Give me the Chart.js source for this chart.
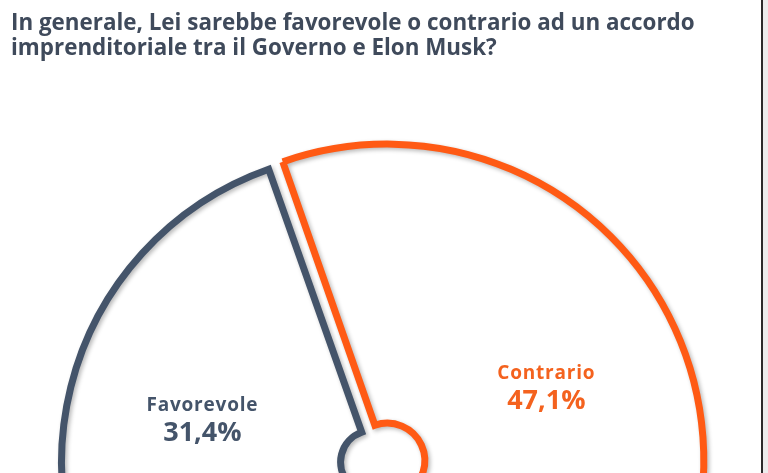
<!DOCTYPE html>
<html><head><meta charset="utf-8">
<script src="https://cdn.jsdelivr.net/npm/chart.js@4.4.0/dist/chart.umd.min.js"></script>
<style>
html,body{margin:0;padding:0;width:768px;height:473px;overflow:hidden;background:#fff;}
#title{position:absolute;left:11px;top:9px;font-family:'Open Sans';font-weight:700;line-height:25px;color:#3F4A5B;white-space:nowrap;z-index:2}
#wrap{position:absolute;left:0;top:0;width:760px;height:928px;}
#edge{position:absolute;left:761px;top:0;width:2px;height:473px;background:#2b2b2b;z-index:3}
#edge2{position:absolute;left:763px;top:0;width:5px;height:473px;background:#ececec;z-index:3}
</style></head>
<body>
<div id="wrap"><canvas id="c"></canvas></div>
<div id="title"><div id="t1"></div><div id="t2"></div></div>
<div id="edge"></div><div id="edge2"></div>
<script>
const titleLines = ["In generale, Lei sarebbe favorevole o contrario ad un accordo", "imprenditoriale tra il Governo e Elon Musk?"];
const categories = ["Favorevole", "Contrario", "Non sa / Non risponde"];
const values = [31.4, 47.1, 21.5];
const valueLabels = ["31,4%", "47,1%", "21,5%"];
const sliceColors = ["#44546A", "#FF5A14", "#A5A5A5"];
const textColors = ["#44546A", "#F4621E", "#7F7F7F"];

// title as real text, fitted to the reference line width
document.getElementById('t1').textContent = titleLines[0];
document.getElementById('t2').textContent = titleLines[1];
(function fitTitle(){
  const m = document.createElement('canvas').getContext('2d');
  m.font = "700 20px 'Open Sans'";
  const w = m.measureText(titleLines[0]).width;
  const size = 20 * 684 / w;
  document.getElementById('title').style.fontSize = size.toFixed(2) + 'px';
})();

const shadowPlugin = {
  id: 'strokeShadow',
  beforeDatasetDraw(chart){
    const c = chart.ctx; c.save();
    c.shadowColor = 'rgba(0,0,0,0.28)'; c.shadowBlur = 4; c.shadowOffsetX = 2; c.shadowOffsetY = 2;
  },
  afterDatasetDraw(chart){ chart.ctx.restore(); }
};

const labelPlugin = {
  id: 'sliceLabels',
  afterDatasetsDraw(chart){
    const meta = chart.getDatasetMeta(0);
    const ctx = chart.ctx;
    meta.data.forEach((arc, i) => {
      const p = arc.getProps(['x','y','startAngle','endAngle','innerRadius','outerRadius'], true);
      const mid = (p.startAngle + p.endAngle) / 2;
      const r = p.innerRadius + (p.outerRadius - p.innerRadius) * 0.545;
      const x = p.x + Math.cos(mid) * r;
      const y = p.y + Math.sin(mid) * r;
      ctx.save();
      ctx.textAlign = 'center'; ctx.textBaseline = 'alphabetic';
      ctx.fillStyle = textColors[i];
      ctx.font = "700 19px 'Open Sans'";
      if ('letterSpacing' in ctx) ctx.letterSpacing = '0.8px';
      ctx.fillText(categories[i], x, y - 9);
      if ('letterSpacing' in ctx) ctx.letterSpacing = '0px';
      ctx.font = "700 27px 'Open Sans'";
      ctx.fillText(valueLabels[i], x, y + 21);
      ctx.restore();
    });
  }
};

new Chart(document.getElementById('c'), {
  type: 'doughnut',
  data: {
    labels: categories,
    datasets: [{
      data: values,
      backgroundColor: 'rgba(255,255,255,0)',
      borderColor: sliceColors,
      borderWidth: 7,
      borderJoinStyle: 'miter',
      offset: 32,
      hoverOffset: 0
    }]
  },
  options: {
    responsive: true,
    maintainAspectRatio: false,
    animation: false,
    events: [],
    radius: 310,
    cutout: '10%',
    rotation: -132.5,
    layout: { padding: 0 },
    plugins: { legend: { display: false }, tooltip: { enabled: false } }
  },
  plugins: [shadowPlugin, labelPlugin]
});
</script>
</body></html>
